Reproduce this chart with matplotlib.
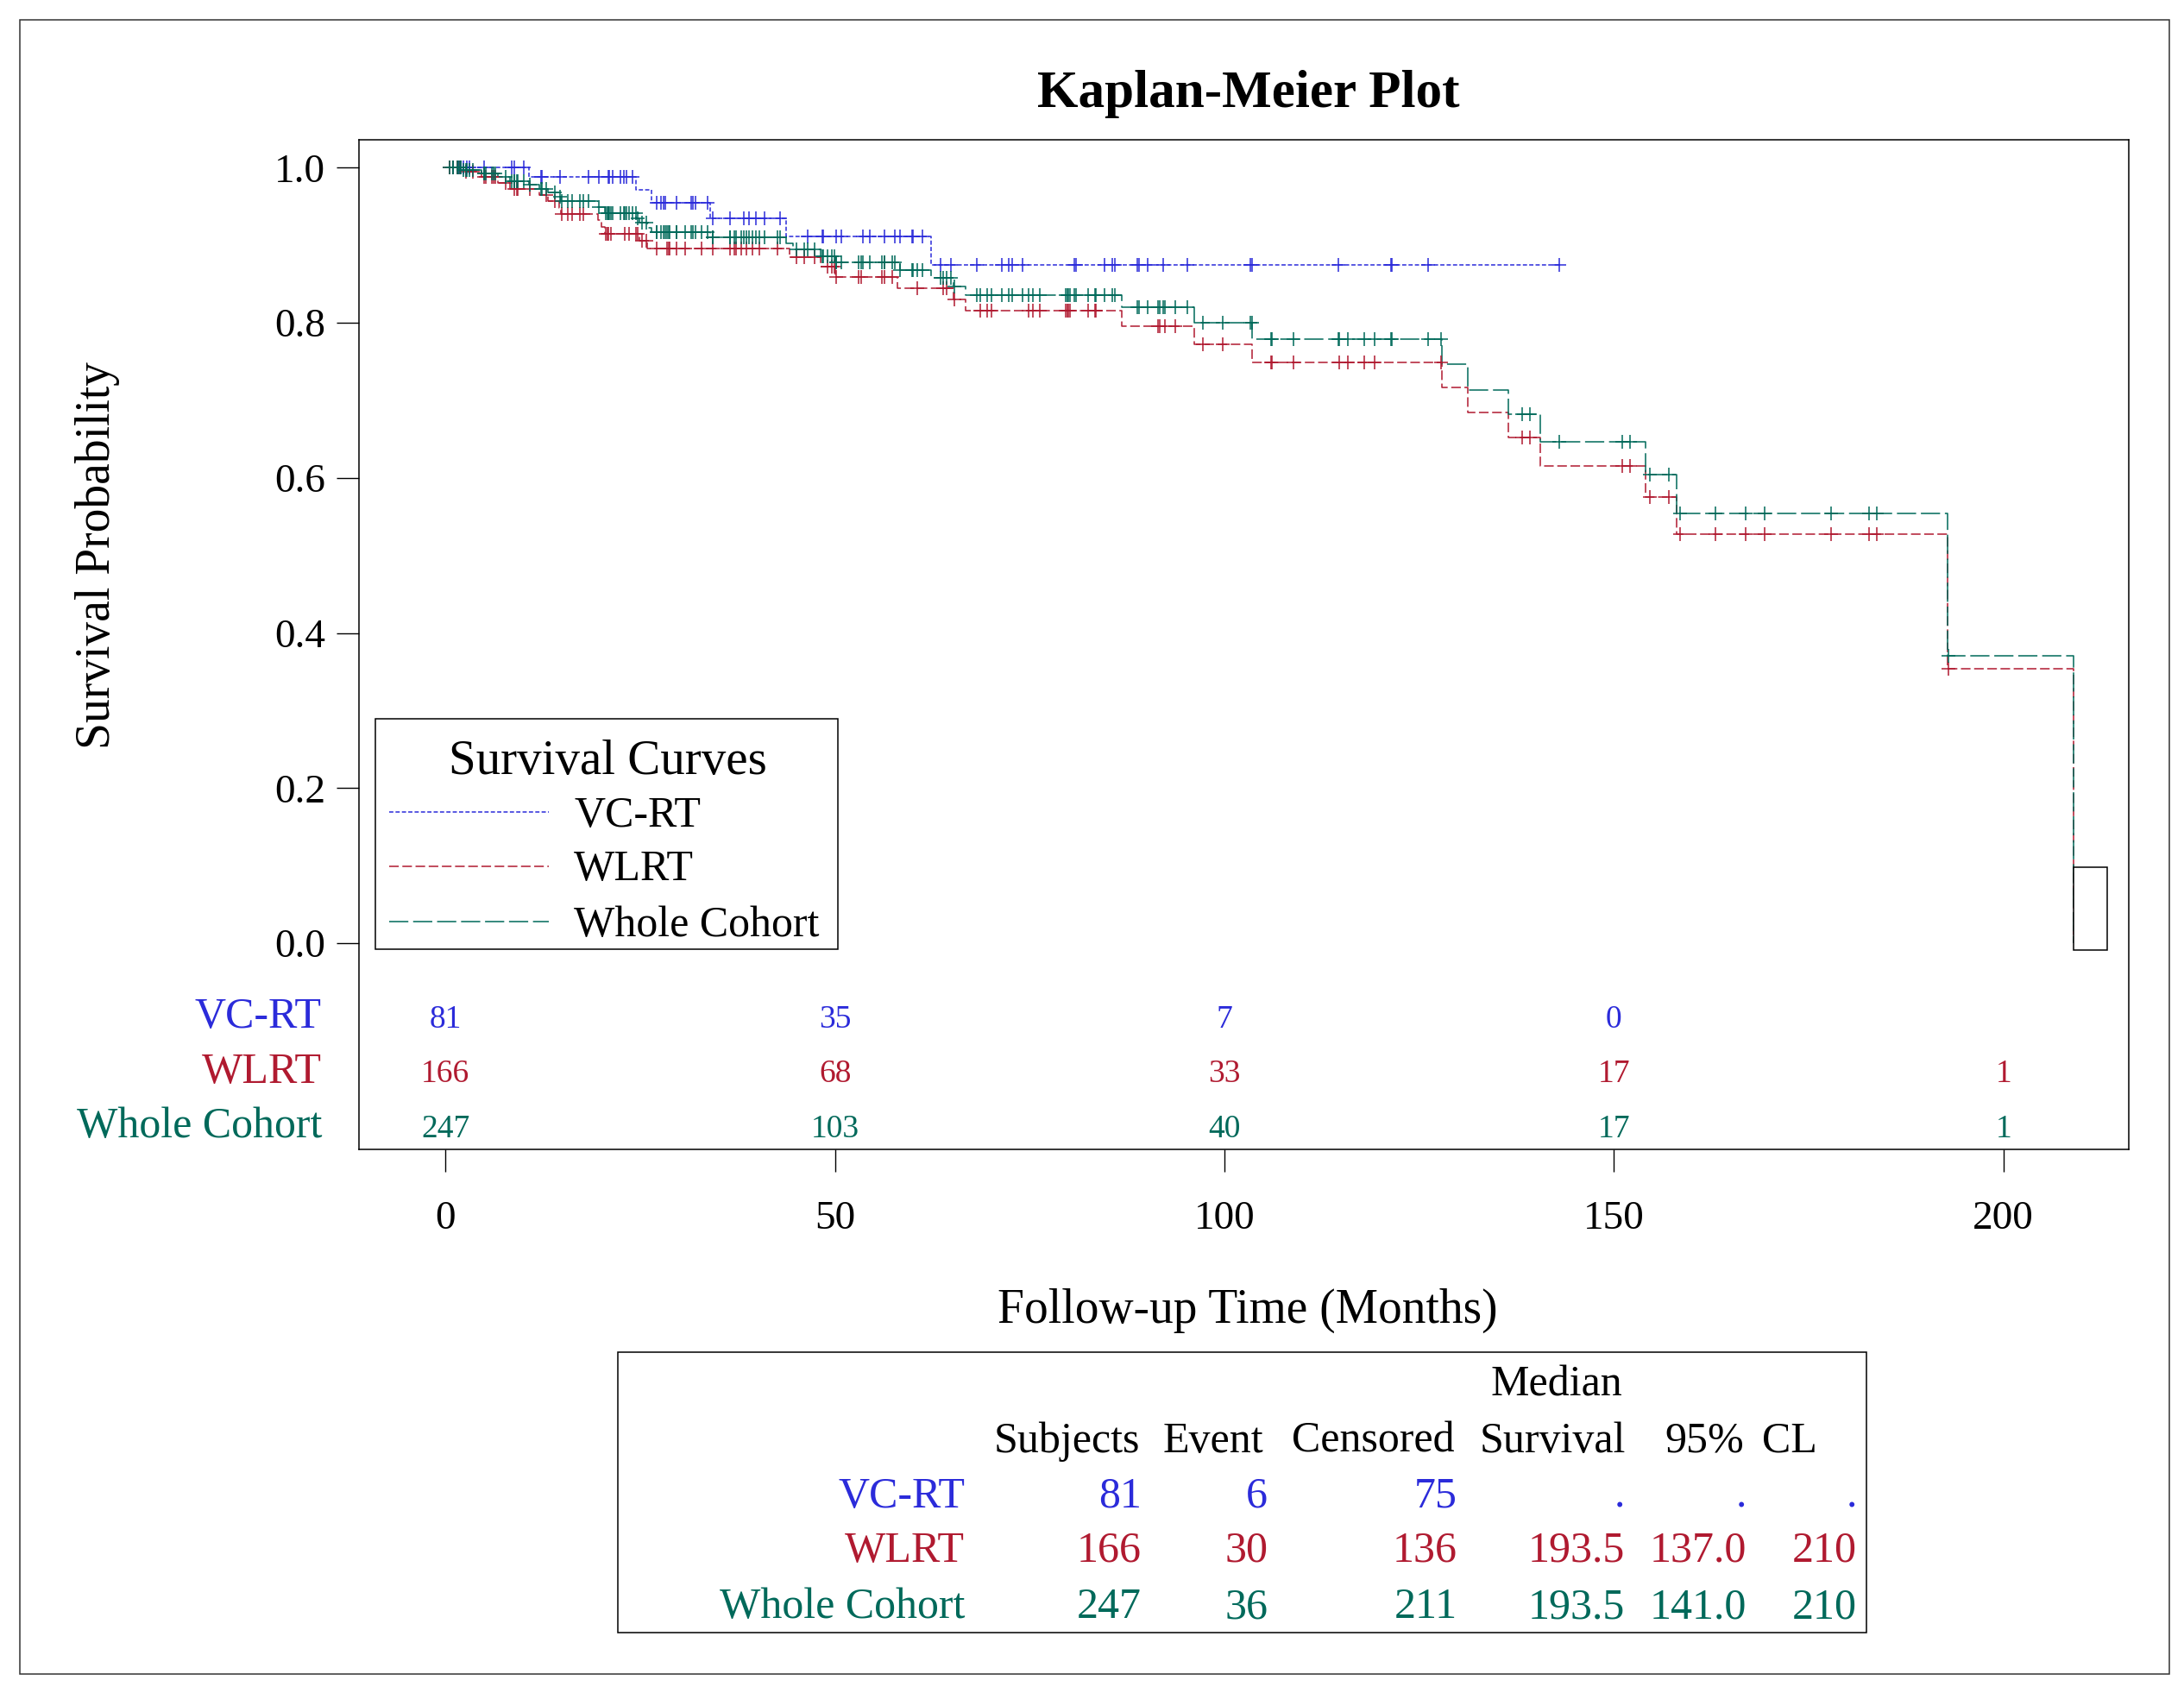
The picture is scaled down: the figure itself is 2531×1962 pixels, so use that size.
import matplotlib
matplotlib.use("Agg")
import matplotlib.pyplot as plt
import matplotlib.transforms as mtransforms
from matplotlib.lines import Line2D
from matplotlib.patches import Rectangle
import numpy as np

plt.rcParams["font.family"] = ["Liberation Serif", "DejaVu Serif"]
plt.rcParams["lines.scale_dashes"] = False

# ---- data ------------------------------------------------------------------
groups = ["VC-RT", "WLRT", "Whole Cohort"]
colors = ["#2B2BDA", "#B01A30", "#00695A"]
styles = [(0, (3.5, 1.8)), (0, (8, 3)), (0, (16, 4))]

# step curves: time of each drop (months) and survival level after it
vc_t = [0, 10.7, 24.5, 26.4, 33.95, 43.7, 62.3]
vc_s = [1.0, 0.9877, 0.9712, 0.9546, 0.9346, 0.9112, 0.8745]
vc_end = 143.0

wl_t = [0, 2.25, 4.65, 6.76, 8.24, 12.04, 13.2, 14.6, 14.8, 19.6, 20.0, 20.5, 24.9,
        25.9, 44.2, 48.2, 50.0, 58.0, 65.2, 66.8, 86.8, 96.1, 103.6, 127.9, 131.2,
        136.4, 140.5, 154.1, 158.1, 192.8, 209.0]
wl_s = [1.0, 0.9945, 0.9879, 0.9802, 0.9724, 0.9645, 0.9568, 0.9482, 0.9401, 0.9319,
        0.9234, 0.9145, 0.9060, 0.8957, 0.8845, 0.8723, 0.8589, 0.8445, 0.8300, 0.8156,
        0.7959, 0.7721, 0.7488, 0.7167, 0.6844, 0.6524, 0.6158, 0.5749, 0.5275, 0.3533, 0.0]

wc_t = [0, 2.25, 4.65, 6.76, 8.24, 10.7, 12.04, 13.2, 14.6, 14.8, 19.6, 20.5, 24.5,
        24.9, 25.9, 26.4, 33.95, 43.7, 44.6, 48.2, 50.0, 58.3, 62.3, 65.2, 66.8, 86.8,
        96.1, 103.6, 127.9, 131.2, 136.4, 140.5, 154.1, 158.1, 192.8, 209.0]
wc_s = [1.0, 0.9968, 0.9924, 0.9879, 0.9824, 0.9779, 0.9724, 0.9679, 0.9624, 0.9568,
        0.9494, 0.9412, 0.9346, 0.9290, 0.9227, 0.9172, 0.9101, 0.9023, 0.8945, 0.8856,
        0.8778, 0.8678, 0.8578, 0.8467, 0.8356, 0.8200, 0.8000, 0.7788, 0.7464, 0.7134,
        0.6817, 0.6466, 0.6046, 0.5539, 0.3706, 0.0]

# censoring times (months)
vc_cens = [1.0, 1.6, 2.0, 2.3, 2.7, 3.1, 4.9, 8.5, 8.8, 10.1, 12.3, 12.4, 14.7, 18.3,
           19.7, 20.9, 21.0, 21.5, 22.5, 22.9, 23.2, 24.0, 27.1, 27.7, 28.0, 28.2, 29.6,
           31.5, 31.8, 32.1, 33.6, 34.3, 36.5, 38.3, 39.0, 39.9, 41.0, 43.0, 46.5, 48.4,
           48.5, 50.1, 50.8, 53.6, 54.5, 56.3, 57.7, 58.3, 59.9, 60.0, 61.2, 63.5, 64.9,
           68.2, 71.4, 72.3, 72.8, 74.1, 80.7, 80.9, 84.6, 85.6, 85.9, 88.8, 89.0, 90.1,
           92.1, 95.2, 103.3, 103.5, 114.6, 121.4, 121.5, 126.1, 143.0]
wl_cens = [0.5, 1.0, 1.5, 1.8, 2.6, 3.5, 5.0, 5.2, 6.0, 6.2, 6.4, 7.7, 8.8, 9.2, 9.3,
           10.8, 12.9, 14.0, 14.9, 15.7, 16.2, 17.3, 17.7, 20.6, 20.8, 20.9, 21.2, 23.0,
           23.6, 24.4, 24.7, 25.2, 25.8, 27.1, 28.4, 28.7, 28.8, 29.6, 30.8, 32.9, 34.3,
           36.5, 37.1, 37.3, 38.0, 38.6, 39.4, 40.3, 42.6, 45.1, 46.1, 47.4, 49.0, 49.6,
           49.9, 50.1, 53.0, 53.4, 56.0, 56.3, 57.4, 60.6, 63.9, 64.3, 65.3, 68.7, 69.5,
           70.1, 74.9, 75.4, 76.3, 79.6, 79.8, 80.0, 80.2, 82.5, 83.4, 83.5, 91.5, 91.7,
           92.4, 93.7, 97.2, 99.8, 106.0, 106.1, 108.9, 114.7, 115.8, 117.9, 119.3, 127.8,
           138.2, 139.2, 151.1, 152.1, 154.6, 157.1, 158.5, 163.0, 166.9, 169.4, 177.9,
           182.8, 183.8, 193.0]
# the whole cohort is both arms together
wc_cens = sorted(vc_cens + wl_cens)

# numbers at risk
risk_times = [0, 50, 100, 150, 200]
vc_risk = [81, 35, 7, 0]
wl_risk = [166, 68, 33, 17, 1]
wc_risk = [247, 103, 40, 17, 1]

# summary table
tab_cols = ["Subjects", "Event", "Censored", "Survival", "95%", "CL"]
tab_rows = [["81", "6", "75", ".", ".", "."],
            ["166", "30", "136", "193.5", "137.0", "210"],
            ["247", "36", "211", "193.5", "141.0", "210"]]

# ---- layout helpers (reference pixel -> figure fraction) --------------------
W, H = 2531, 1962


def fx(px):
    return px / W


def fy(py):
    return 1 - py / H


fig = plt.figure(figsize=(W / 100, H / 100), dpi=100)
ax = fig.add_axes([fx(415.5), fy(1332), fx(2467) - fx(415.5), fy(162) - fy(1332)])
ax.set_xlim(-11.17, 216.1)
ax.set_ylim(-0.2659, 1.0359)

curves = [(vc_t + [vc_end], vc_s + [vc_s[-1]], vc_cens),
          (wl_t, wl_s, wl_cens),
          (wc_t, wc_s, wc_cens)]
for (t, s, cens), col, ls in zip(curves, colors, styles):
    ax.step(t, s, where="post", color=col, lw=1.1, linestyle=ls, zorder=3)
    idx = np.searchsorted(t, cens, side="right") - 1
    ax.plot(cens, np.asarray(s)[idx], linestyle="none", marker="+", ms=12, mew=1.1,
            color=col, zorder=4)

# the odd little box at the end of the curves
ax.add_patch(Rectangle((209.0, -0.0086), 4.3, 0.1069, facecolor="white",
                       edgecolor="black", lw=1.1, zorder=5))

ax.set_xticks(risk_times)
ax.set_yticks([0.0, 0.2, 0.4, 0.6, 0.8, 1.0])
ax.set_yticklabels([f"{v:.1f}" for v in ax.get_yticks()])
ax.tick_params(axis="both", direction="out", length=18.7, width=1.0, labelsize=34)
ax.tick_params(axis="x", pad=24)
ax.tick_params(axis="y", pad=9)
for sp in ax.spines.values():
    sp.set_linewidth(1.1)

# numbers at risk inside the frame
blend = mtransforms.blended_transform_factory(ax.transData, fig.transFigure)
for name, col, risk, base in zip(groups, colors, [vc_risk, wl_risk, wc_risk],
                                 [1191, 1254.5, 1318]):
    fig.text(fx(373), fy(base), name, color=col, fontsize=36, ha="right", va="baseline")
    for tt, n in zip(risk_times, risk):
        ax.text(tt, fy(base), str(n), color=col, fontsize=27, ha="center",
                va="baseline", transform=blend)

# titles
fig.text(fx(1447), fy(124), "Kaplan-Meier Plot", fontsize=44, fontweight="bold",
         ha="center", va="baseline")
fig.text(fx(1446), fy(1533), "Follow-up Time (Months)", fontsize=40, ha="center",
         va="baseline")
fig.text(fx(113), fy(643), "Survival Probability", fontsize=40, rotation=90,
         ha="center", va="center")

# legend box
fig.add_artist(Rectangle((fx(435.3), fy(1100.3)), fx(971) - fx(435.3),
                         fy(833.3) - fy(1100.3), transform=fig.transFigure,
                         facecolor="white", edgecolor="black", lw=1.1, zorder=6))
fig.text(fx(704), fy(897), "Survival Curves", fontsize=41, ha="center",
         va="baseline", zorder=7)
for name, col, ls, ly in zip(groups, colors, styles, [941.3, 1003.7, 1068.3]):
    fig.add_artist(Line2D([fx(450.7), fx(636)], [fy(ly), fy(ly)], color=col, lw=1.1,
                          linestyle=ls, transform=fig.transFigure, zorder=7))
    fig.text(fx(665), fy(ly + 16.5), name, fontsize=36, ha="left", va="baseline",
             zorder=7)

# summary table
fig.add_artist(Rectangle((fx(716), fy(1891.7)), fx(2163) - fx(716),
                         fy(1567.3) - fy(1891.7), transform=fig.transFigure,
                         fill=False, edgecolor="black", lw=1.1))
fig.text(fx(1880), fy(1618), "Median", fontsize=36, ha="right", va="baseline")
head_right = [1321, 1464.5, 1686, 1884.5, 2021, 2106]
col_right = [1323, 1469, 1689, 1883, 2024, 2152]
for h, xr in zip(tab_cols, head_right):
    fig.text(fx(xr), fy(1682.5), h, fontsize=36, ha="right", va="baseline")
for name, col, row, base in zip(groups, colors, tab_rows, [1746.5, 1810, 1875]):
    fig.text(fx(1118), fy(base), name, color=col, fontsize=36, ha="right",
             va="baseline")
    for v, xr in zip(row, col_right):
        fig.text(fx(xr), fy(base), v, color=col, fontsize=36, ha="right",
                 va="baseline")

# outer border
fig.add_artist(Rectangle((fx(22.7), fy(1939.5)), fx(2514) - fx(22.7),
                         fy(22.7) - fy(1939.5), transform=fig.transFigure,
                         fill=False, edgecolor="#333333", lw=1.1))

fig.savefig("out.png", dpi=100)
